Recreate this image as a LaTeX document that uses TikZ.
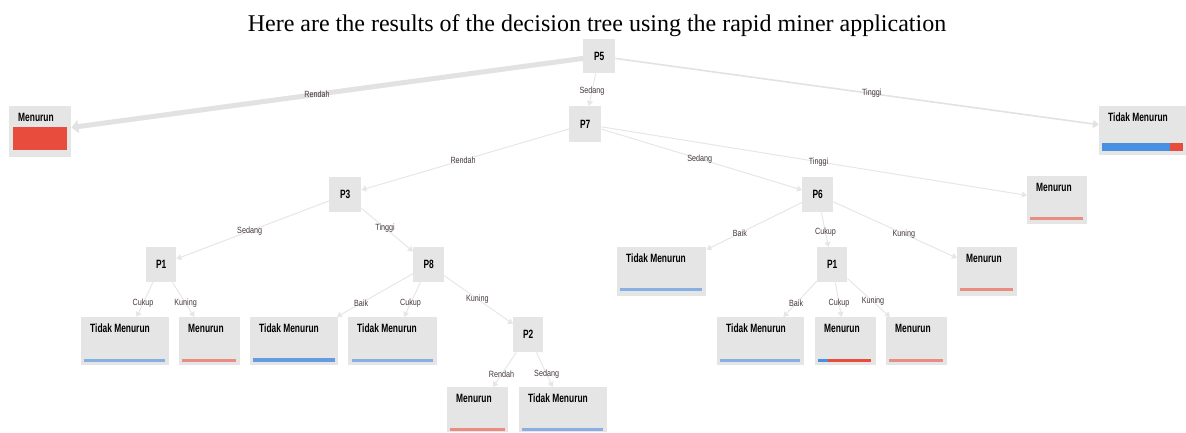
\documentclass[tikz,border=0pt]{standalone}
\usepackage{fontspec}
\setmainfont{Liberation Serif}
\newfontfamily\nodefont{Liberation Sans}[FakeStretch=0.7]
\newfontfamily\lblfont{Liberation Sans}[FakeStretch=0.8]
\usetikzlibrary{arrows.meta,calc}
\definecolor{boxgray}{RGB}{229,229,229}
\definecolor{edgegray}{RGB}{230,230,230}
\definecolor{thickgray}{RGB}{226,226,226}
\definecolor{lblcol}{RGB}{70,55,65}
\definecolor{sred}{RGB}{231,76,60}
\definecolor{sblue}{RGB}{74,144,226}
\definecolor{lred}{RGB}{233,140,130}
\definecolor{lblue}{RGB}{135,175,228}
\definecolor{mblue}{RGB}{100,155,225}
\begin{document}
\begin{tikzpicture}[x=1pt,y=-1pt,
  inode/.style={fill=boxgray, anchor=north west, inner sep=0pt,
    font=\nodefont\bfseries\fontsize{12}{12}\selectfont},
  leaf/.style={fill=boxgray, anchor=north west, inner sep=0pt},
  ltext/.style={anchor=north west, xshift=9pt, yshift=-7pt, inner sep=0pt,
    font=\nodefont\bfseries\fontsize{12}{12}\selectfont},
  conn/.style={draw=edgegray, line width=1pt, -{Triangle[length=5pt,width=6pt]}},
  elabel/.style={font=\lblfont\fontsize{9}{9}\selectfont, text=lblcol, inner sep=0pt}
]
\useasboundingbox (0,0) rectangle (1186,432);
% title
\node[anchor=base, font=\fontsize{24}{24}\selectfont] (title) at (597,31)
  {Here are the results of the decision tree using the rapid miner application};

% inner nodes
\node[inode, minimum width=32pt, minimum height=34pt] (p5) at (583,39) {P5};
\node[inode, minimum width=32pt, minimum height=36pt] (p7) at (569,106) {P7};
\node[inode, minimum width=32pt, minimum height=35pt] (p3) at (329,177) {P3};
\node[inode, minimum width=30pt, minimum height=35pt] (p1a) at (146,247) {P1};
\node[inode, minimum width=31pt, minimum height=35pt] (p8) at (413,247) {P8};
\node[inode, minimum width=30pt, minimum height=35pt] (p2) at (513,317) {P2};
\node[inode, minimum width=31pt, minimum height=35pt] (p6) at (802,177) {P6};
\node[inode, minimum width=30pt, minimum height=35pt] (p1b) at (817,247) {P1};

% leaves
\node[leaf, minimum width=62pt, minimum height=51pt, label={[ltext]north west:Menurun}] (m0) at (9,106) {};
\node[leaf, minimum width=87pt, minimum height=49pt, label={[ltext]north west:Tidak Menurun}] (tm0) at (1099,106) {};
\node[leaf, minimum width=60pt, minimum height=48pt, label={[ltext]north west:Menurun}] (m1) at (1027,176) {};
\node[leaf, minimum width=88pt, minimum height=48pt, label={[ltext]north west:Tidak Menurun}] (tm1) at (81,317) {};
\node[leaf, minimum width=61pt, minimum height=48pt, label={[ltext]north west:Menurun}] (m2) at (179,317) {};
\node[leaf, minimum width=88pt, minimum height=48pt, label={[ltext]north west:Tidak Menurun}] (tm2) at (250,317) {};
\node[leaf, minimum width=89pt, minimum height=48pt, label={[ltext]north west:Tidak Menurun}] (tm3) at (348,317) {};
\node[leaf, minimum width=61pt, minimum height=45pt, label={[ltext]north west:Menurun}] (m3) at (447,387) {};
\node[leaf, minimum width=88pt, minimum height=45pt, label={[ltext]north west:Tidak Menurun}] (tm4) at (519,387) {};
\node[leaf, minimum width=89pt, minimum height=49pt, label={[ltext]north west:Tidak Menurun}] (tm5) at (617,247) {};
\node[leaf, minimum width=60pt, minimum height=49pt, label={[ltext]north west:Menurun}] (m4) at (957,247) {};
\node[leaf, minimum width=87pt, minimum height=48pt, label={[ltext]north west:Tidak Menurun}] (tm6) at (717,317) {};
\node[leaf, minimum width=61pt, minimum height=48pt, label={[ltext]north west:Menurun}] (m5) at (815,317) {};
\node[leaf, minimum width=61pt, minimum height=48pt, label={[ltext]north west:Menurun}] (m6) at (886,317) {};

% bars
\fill[sred] ($(m0.south west)+(4,-7)$) rectangle ($(m0.north east)+(-4,21)$);
\fill[sblue] ($(tm0.south west)+(3,-4)$) rectangle ($(tm0.south west)+(71,-12)$);
\fill[sred] ($(tm0.south west)+(71,-4)$) rectangle ($(tm0.south east)+(-3,-12)$);
\fill[lred] ($(m1.south west)+(3,-4)$) rectangle ($(m1.south east)+(-4,-7)$);
\fill[lblue] ($(tm1.south west)+(3,-3)$) rectangle ($(tm1.south east)+(-4,-6)$);
\fill[lred] ($(m2.south west)+(3,-3)$) rectangle ($(m2.south east)+(-4,-6)$);
\fill[mblue] ($(tm2.south west)+(3,-3)$) rectangle ($(tm2.south east)+(-3,-7)$);
\fill[lblue] ($(tm3.south west)+(4,-3)$) rectangle ($(tm3.south east)+(-4,-6)$);
\fill[lred] ($(m3.south west)+(3,-1)$) rectangle ($(m3.south east)+(-3,-4)$);
\fill[lblue] ($(tm4.south west)+(3,-1)$) rectangle ($(tm4.south east)+(-4,-4)$);
\fill[lblue] ($(tm5.south west)+(3,-5)$) rectangle ($(tm5.south east)+(-4,-8)$);
\fill[lred] ($(m4.south west)+(3,-5)$) rectangle ($(m4.south east)+(-4,-8)$);
\fill[lblue] ($(tm6.south west)+(3,-3)$) rectangle ($(tm6.south east)+(-4,-6)$);
\fill[sblue] ($(m5.south west)+(3,-3)$) rectangle ($(m5.south west)+(13,-6)$);
\fill[sred] ($(m5.south west)+(13,-3)$) rectangle ($(m5.south east)+(-5,-6)$);
\fill[lred] ($(m6.south west)+(3,-3)$) rectangle ($(m6.south east)+(-4,-6)$);

% connectors
\draw[conn, draw=thickgray, line width=5pt, -{Triangle[length=7pt,width=13pt]}] (p5) -- node[elabel, pos=.52] {Rendah} (m0);
\draw[conn] (p5) -- node[elabel, pos=.55] {Sedang} (p7);
\draw[conn, draw=thickgray, line width=1.6pt, -{Triangle[length=6pt,width=8pt]}] (p5) -- node[elabel, pos=.53] {Tinggi} (tm0);

\draw[conn] (p7) -- node[elabel, pos=.51] {Rendah} (p3);
\draw[conn] (p7) -- node[elabel, pos=.49] {Sedang} (p6);
\draw[conn] (p7) -- node[elabel, pos=.51] {Tinggi} (m1);

\draw[conn] (p3) -- node[elabel, pos=.52] {Sedang} (p1a);
\draw[conn] (p3) -- node[elabel, pos=.46] {Tinggi} (p8);

\draw[conn] (p1a) -- node[elabel, pos=.6] {Cukup} (tm1);
\draw[conn] (p1a) -- node[elabel, pos=.6] {Kuning} (m2);

\draw[conn] (p8) -- node[elabel, pos=.68] {Baik} (tm2);
\draw[conn] (p8) -- node[elabel, pos=.6] {Cukup} (tm3);
\draw[conn] (p8) -- node[elabel, pos=.48] {Kuning} (p2);

\draw[conn] (p2) -- node[elabel, pos=.63] {Rendah} (m3);
\draw[conn] (p2) -- node[elabel, pos=.63] {Sedang} (tm4);

\draw[conn] (p6) -- node[elabel, pos=.65] {Baik} (tm5);
\draw[conn] (p6) -- node[elabel, pos=.57] {Cukup} (p1b);
\draw[conn] (p6) -- node[elabel, pos=.57] {Kuning} (m4);

\draw[conn] (p1b) -- node[elabel, pos=.62] {Baik} (tm6);
\draw[conn] (p1b) -- node[elabel, pos=.6] {Cukup} (m5);
\draw[conn] (p1b) -- node[elabel, pos=.6] {Kuning} (m6);
\end{tikzpicture}
\end{document}
